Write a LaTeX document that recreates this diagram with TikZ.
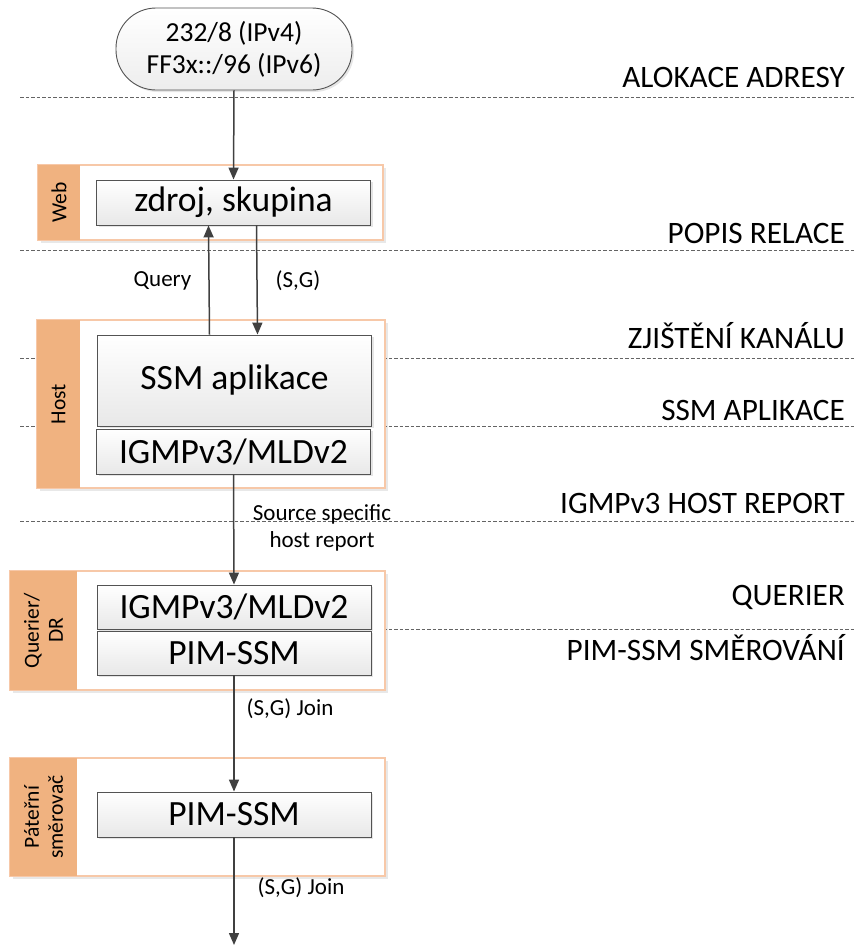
\documentclass[tikz,border=0pt]{standalone}
\usepackage{fontspec}
\setmainfont{Carlito}
\usetikzlibrary{arrows.meta,shadows}
\definecolor{stripc}{RGB}{240,178,128}
\definecolor{framec}{RGB}{247,200,168}
\definecolor{edgec}{RGB}{64,64,64}
\definecolor{dashc}{RGB}{100,100,100}
\begin{document}
\begin{tikzpicture}[x=1pt,y=-1pt,
  lane/.style={draw=framec, line width=1.4pt, fill=white, inner sep=0pt,
    drop shadow={shadow xshift=3pt,shadow yshift=-3pt,opacity=0.18}},
  stripe/.style={fill=stripc, rotate=90, inner sep=0pt, align=center,
    font=\fontsize{21.5}{24}\selectfont},
  layerbox/.style={draw=edgec!90, line width=0.9pt, top color=white, bottom color=black!9,
    minimum width=274pt, inner sep=0pt, font=\fontsize{35.5}{40}\selectfont,
    drop shadow={shadow xshift=2pt,shadow yshift=-2pt,opacity=0.2}},
  phase/.style={anchor=base east, inner sep=0pt, font=\fontsize{31.2}{34}\selectfont},
  small/.style={inner sep=0pt, align=center, font=\fontsize{23}{27}\selectfont},
  sep/.style={dashc, line width=0.8pt, dash pattern=on 3.5pt off 2pt},
  flow/.style={edgec, line width=1.5pt, -{Triangle[length=12pt,width=10pt]}}
]
\useasboundingbox (0,0) rectangle (854,946);

% separators
\foreach \yy in {97,250,358,426,521,629} \draw[sep] (20,\yy) -- (854,\yy);

% phase labels
\node[phase] (p1) at (845,87) {ALOKACE ADRESY};
\node[phase] (p2) at (845,243) {POPIS RELACE};
\node[phase] (p3) at (845,348) {ZJIŠTĚNÍ KANÁLU};
\node[phase] (p4) at (845,420) {SSM APLIKACE};
\node[phase] (p5) at (845,513) {IGMPv3 HOST REPORT};
\node[phase] (p6) at (845,605) {QUERIER};
\node[phase] (p7) at (845,660) {PIM-SSM SMĚROVÁNÍ};

% terminal
\node[draw=edgec!90, line width=0.9pt, top color=white, bottom color=black!7,
  rounded corners=40pt, minimum width=236pt, minimum height=82pt, inner sep=0pt,
  align=center, font=\fontsize{27.5}{32}\selectfont,
  drop shadow={shadow xshift=2pt,shadow yshift=-2pt,opacity=0.2}]
  (term) at (234,49) {232/8 (IPv4)\\FF3x::/96 (IPv6)};

% containers
\node[lane, minimum width=345pt, minimum height=75pt] (web) at (210.5,202.5) {};
\node[stripe, minimum width=75pt, minimum height=42pt] (webs) at (59,202.5) {Web};
\node[lane, minimum width=348pt, minimum height=168pt] (host) at (211,404) {};
\node[stripe, minimum width=168pt, minimum height=43pt] (hosts) at (58.5,404) {Host};
\node[lane, minimum width=375pt, minimum height=119pt] (qdr) at (197.5,630.5) {};
\node[stripe, minimum width=119pt, minimum height=67pt] (qdrs) at (43.5,630.5) {Querier/\\DR};
\node[lane, minimum width=375pt, minimum height=118pt] (bb) at (197.5,817) {};
\node[stripe, minimum width=118pt, minimum height=67pt] (bbs) at (43.5,817) {Páteřní\\směrovač};

% layer boxes
\node[layerbox, minimum height=45pt] (zdroj) at (233.5,202.5) {zdroj, skupina};
\node[layerbox, minimum height=91pt] (ssm) at (234.5,380.5) {SSM aplikace};
\node[layerbox, minimum height=45pt] (igh) at (233.5,451.5) {IGMPv3/MLDv2};
\node[layerbox, minimum height=44pt] (igq) at (234,607) {IGMPv3/MLDv2};
\node[layerbox, minimum height=44pt] (pimq) at (234,653) {PIM-SSM};
\node[layerbox, minimum height=45pt] (pimb) at (234,814.5) {PIM-SSM};

% connectors
\coordinate (out) at (234,945);
\draw[flow] (term.south) -- (zdroj.north);
\draw[flow] ([xshift=-25pt]ssm.north) -- ([xshift=-25pt]zdroj.south);
\draw[flow] ([xshift=23pt]zdroj.south) -- ([xshift=23pt]ssm.north);
\draw[flow] (igh.south) -- (igq.north);
\draw[flow] (pimq.south) -- (pimb.north);
\draw[flow] (pimb.south) -- (out);

% connector labels
\node[small] (lq) at (162.5,281) {Query};
\node[small] (lsg) at (298,281) {(S,G)};
\node[small] (lrep) at (322,528) {Source specific\\host report};
\node[small] (lj1) at (290,709) {(S,G) Join};
\node[small] (lj2) at (301,888) {(S,G) Join};
\end{tikzpicture}
\end{document}
